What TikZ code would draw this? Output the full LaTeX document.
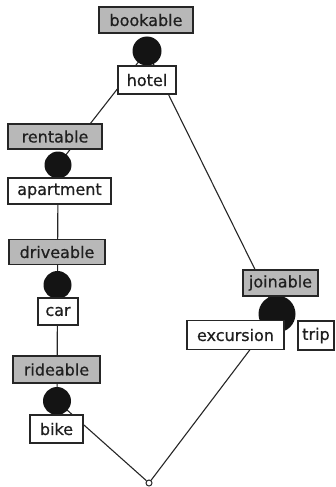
\documentclass[tikz,border=0pt]{standalone}
\usepackage{fontspec}
\setmainfont{DejaVu Sans}[FakeBold=0.6]
\begin{document}
\begin{tikzpicture}[x=1pt,y=-1pt,
  lbl/.style={draw=black!85,line width=1.2pt,inner sep=0pt,font=\fontsize{16}{18}\selectfont,text=black!88},
  conceptbox/.style={lbl,fill=black!28},
  itembox/.style={lbl,fill=white},
  dot/.style={circle,fill=black!92,draw=none,inner sep=0pt},
  link/.style={draw=black!85,line width=1.1pt}]
\useasboundingbox (0,0) rectangle (335,487);
% circle centres
\coordinate (cb) at (147,51);
\coordinate (cr) at (58,165);
\coordinate (cd) at (57.5,285);
\coordinate (ci) at (57,401);
\coordinate (cj) at (277,314);
\node[circle,draw=black!85,fill=white,line width=1pt,minimum size=6pt,inner sep=0pt] (end) at (149,483) {};
% connectors
\draw[link] (cb) -- (cr);
\draw[link] (cb) -- (cj);
\draw[link] (cr) -- (cd);
\draw[link] (cd) -- (ci);
\draw[link] (ci) -- (end);
\draw[link] (cj) -- (end);
% dots
\node[dot,minimum size=29pt] (db) at (cb) {};
\node[dot,minimum size=27pt] (dr) at (cr) {};
\node[dot,minimum size=28pt] (dd) at (cd) {};
\node[dot,minimum size=28pt] (di) at (ci) {};
\node[dot,minimum size=37pt] (dj) at (cj) {};
% boxes
\node[conceptbox,minimum width=94pt,minimum height=26pt] (bookable) at (146,20) {bookable};
\node[itembox,minimum width=58pt,minimum height=28pt] (hotel) at (147,80) {hotel};
\node[conceptbox,minimum width=94pt,minimum height=25pt] (rentable) at (55,136.5) {rentable};
\node[itembox,minimum width=103pt,minimum height=26pt] (apartment) at (59.5,191) {apartment};
\node[conceptbox,minimum width=96pt,minimum height=25pt] (driveable) at (57,252) {driveable};
\node[itembox,minimum width=40pt,minimum height=27pt] (car) at (58,311.5) {car};
\node[conceptbox,minimum width=87pt,minimum height=27pt] (rideable) at (56.5,369.5) {rideable};
\node[itembox,minimum width=53pt,minimum height=28pt] (bike) at (56.5,429) {bike};
\node[conceptbox,minimum width=75pt,minimum height=26pt] (joinable) at (280.5,283) {joinable};
\node[itembox,minimum width=97pt,minimum height=29pt] (excursion) at (235.5,335) {excursion};
\node[itembox,minimum width=36pt,minimum height=29pt] (trip) at (316,335.5) {trip};
\end{tikzpicture}
\end{document}
